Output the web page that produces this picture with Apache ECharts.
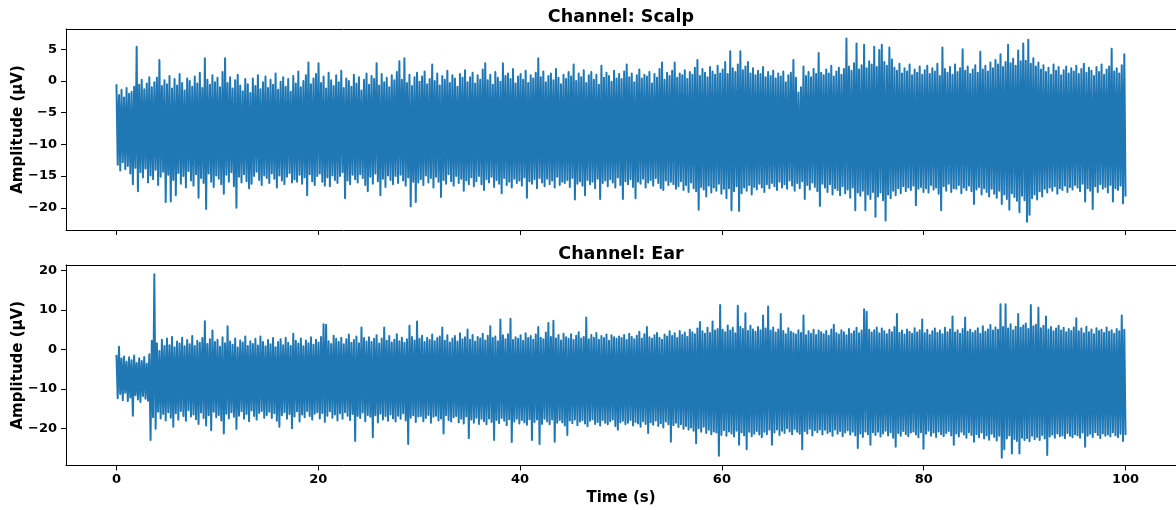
<!DOCTYPE html>
<html>
<head>
<meta charset="utf-8">
<script src="https://cdn.jsdelivr.net/npm/echarts@6/dist/echarts.min.js"></script>
<style>
  html, body { margin: 0; padding: 0; background: #fff; }
  #chart { width: 1176px; height: 510px; }
</style>
</head>
<body>
<div id="chart"></div>
<script>
  // peaks, one per 0.25 s (hi at t, lo half a step later), 20 per row = 5 s
  const scalpHi = [
    -0.5, -2.2, -1.4, -2.6, -1.1, -2.0, -1.7, -0.9, 5.4, -0.6, 0.2, -1.3, -0.4, 0.6, -1.0, -0.2, 0.5, 3.3, -0.8, 0.1,
    -0.5, 0.8, -1.2, 0.3, -0.7, 1.1, -0.3, -1.5, 0.4, 0.0, -0.9, 0.7, -0.4, 1.3, -1.1, 3.6, 0.2, -0.6, 0.9, -0.2,
    0.5, -1.0, 1.4, 3.6, -0.3, 0.6, -1.2, 0.1, 1.0, -0.7, -1.6, 0.3, -0.5, -1.9, 0.4, -0.8, 0.9, -1.3, -0.2, 0.7,
    -1.1, 0.2, -0.6, 1.2, -1.4, -0.1, 0.6, -0.9, 0.3, -1.7, 0.8, -0.4, 1.5, -1.0, 0.0, 0.9, 2.9, -0.5, 0.4, 1.1,
    2.8, -0.3, 0.7, -1.2, 1.3, 0.1, -0.8, 0.9, -0.2, 1.6, -1.1, 0.4, 0.0, -0.9, 1.0, -0.4, 0.6, -1.5, 0.2, 1.2,
    -0.6, 0.8, 0.3, 2.8, -0.7, 1.1, -0.2, 0.5, -1.0, 0.9, 0.1, 1.4, 3.1, 0.2, 3.6, -0.3, 1.0, -0.8, 0.6, 1.3,
    -0.1, 0.7, 1.5, -0.5, 0.3, 2.6, 0.0, 1.2, -0.7, 0.8, 0.2, 1.6, -0.3, 0.9, 0.4, -0.9, 1.1, 0.5, 1.7, -0.2,
    0.6, 1.3, -0.4, 0.9, 0.2, 1.8, 2.8, 0.1, 1.0, -0.6, 1.4, 0.5, -0.1, 2.8, 0.8, 1.2, 0.3, 1.9, -0.4, 0.7,
    1.1, 0.2, 1.6, -0.3, 0.9, 0.4, 1.3, 3.6, 0.6, 1.5, -0.2, 0.8, 1.2, 0.1, 1.9, 0.5, -0.5, 1.0, 0.3, 1.4,
    0.7, 2.6, 0.0, 1.2, 0.6, 1.7, -0.3, 0.9, 1.4, 0.2, 1.0, -0.6, 2.4, 0.5, 1.3, 0.8, -0.1, 1.6, 0.4, 1.1,
    0.3, 1.5, 2.6, 0.6, 1.2, -0.2, 0.9, 1.8, 0.4, 1.0, 0.7, 1.4, -0.4, 1.1, 0.5, 1.9, 2.9, 0.2, 1.3, 0.8,
    1.6, 2.9, 0.5, 1.2, 0.9, 1.7, 0.3, 1.4, 1.0, 2.1, 3.3, 0.8, 1.9, 1.3, 0.6, 2.2, 1.5, 1.0, 2.4, 1.2,
    1.8, 3.0, 1.1, 4.7, 2.0, 1.4, 2.6, 4.7, 1.7, 2.3, 3.0, 1.2, 2.0, 0.9, 1.6, 1.1, 2.2, 0.6, 1.4, 0.8,
    1.6, 0.4, 1.2, 0.7, 1.5, -0.2, 0.9, 1.3, 3.3, 0.5, -1.8, -1.0, 2.3, 0.8, 1.4, 0.6, 1.9, 1.1, 4.4, 1.3,
    0.9, 1.8, 1.2, 2.4, 0.7, 1.5, 2.1, 1.0, 1.9, 6.7, 2.3, 1.6, 2.8, 5.9, 1.8, 2.5, 5.7, 2.0, 3.1, 2.6,
    5.4, 2.2, 4.9, 5.7, 3.0, 2.4, 5.3, 3.4, 2.1, 1.6, 2.7, 1.2, 2.0, 1.5, 2.6, 0.9, 1.8, 1.3, 2.3, 1.0,
    1.7, 2.4, 1.1, 2.0, 1.5, 2.7, 0.8, 5.3, 1.9, 1.3, 2.2, 1.0, 2.6, 1.4, 2.0, 5.0, 1.6, 2.3, 1.1, 1.8,
    2.5, 1.3, 4.6, 1.8, 2.4, 1.5, 2.9, 2.0, 3.3, 2.6, 4.2, 2.2, 3.0, 5.7, 2.8, 3.5, 2.4, 4.8, 3.1, 5.9,
    3.2, 6.5, 2.7, 3.6, 2.3, 2.9, 1.8, 2.5, 1.4, 2.1, 1.0, 2.6, 1.6, 2.2, 0.9, 1.7, 2.3, 1.2, 2.0, 1.5,
    2.4, 1.1, 1.9, 2.7, 1.3, 2.1, 1.6, 0.8, 2.2, 1.4, 2.6, 1.0, 1.8, 2.3, 5.1, 1.5, 2.0, 1.2, 2.5, 4.2
  ];
  const scalpLo = [
    -13.2, -14.1, -12.8, -13.9, -13.4, -14.6, -16.3, -13.7, -17.4, -14.4, -15.2, -13.8, -16.0, -14.9, -15.5, -14.0, -16.4, -15.1, -14.3, -19.1,
    -14.8, -19.0, -15.6, -18.0, -14.5, -16.2, -15.0, -16.8, -14.2, -15.7, -16.5, -14.7, -18.4, -15.3, -16.1, -20.2, -14.6, -15.9, -16.7, -14.9,
    -15.4, -16.3, -17.8, -14.8, -15.9, -14.4, -16.6, -20.0, -15.1, -16.0, -14.7, -15.8, -16.9, -16.2, -15.0, -14.3, -15.6, -16.4, -14.9, -15.3,
    -16.1, -14.6, -15.4, -16.8, -14.9, -15.7, -16.3, -15.1, -14.5, -16.0, -15.5, -15.9, -14.8, -16.2, -15.2, -18.0, -14.7, -15.8, -16.4, -15.0,
    -14.6, -15.9, -16.5, -15.2, -16.6, -14.9, -15.6, -16.1, -15.0, -14.4, -18.5, -15.7, -16.3, -14.8, -15.5, -16.0, -14.7, -15.3, -16.4, -17.4,
    -15.1, -16.2, -14.6, -15.8, -18.0, -15.4, -16.7, -14.9, -15.6, -16.3, -15.0, -16.1, -14.8, -15.7, -16.5, -15.2, -19.8, -15.9, -19.1, -16.0,
    -15.5, -16.4, -14.9, -16.0, -15.3, -16.8, -15.1, -15.9, -18.3, -15.6, -16.2, -14.7, -15.8, -16.5, -15.0, -16.1, -15.4, -17.3, -15.7, -16.3,
    -15.2, -16.6, -15.8, -15.0, -16.3, -17.2, -15.5, -16.0, -15.1, -16.7, -15.6, -16.2, -17.7, -15.3, -16.4, -15.9, -16.8, -15.4, -16.1, -15.7,
    -16.5, -15.2, -18.4, -15.8, -16.2, -15.5, -16.9, -15.3, -16.0, -16.6, -15.4, -16.3, -15.7, -16.8, -15.1, -16.4, -15.9, -16.1, -15.6, -16.7,
    -15.3, -18.7, -16.2, -15.8, -16.5, -18.0, -15.6, -16.3, -15.9, -16.9, -15.4, -18.6, -16.1, -15.7, -16.6, -15.5, -16.0, -16.8, -15.2, -16.4,
    -18.6, -15.8, -16.3, -15.5, -16.7, -18.5, -15.9, -16.2, -15.4, -16.8, -16.0, -15.6, -16.5, -15.3, -16.1, -16.9, -17.2, -15.7, -16.4, -15.9,
    -16.3, -17.0, -16.6, -15.8, -17.2, -16.4, -17.5, -16.0, -16.9, -17.4, -20.3, -16.7, -17.1, -18.2, -16.5, -17.6, -16.8, -17.3, -16.2, -17.8,
    -17.0, -18.5, -16.9, -20.4, -17.4, -16.6, -20.5, -17.7, -16.8, -17.3, -16.4, -17.9, -16.7, -17.1, -16.2, -16.8, -17.5, -16.3, -16.9, -16.1,
    -16.6, -17.2, -15.9, -16.8, -16.3, -17.0, -15.7, -16.5, -17.3, -16.1, -16.9, -15.8, -18.6, -16.4, -17.1, -16.0, -16.7, -17.4, -19.7, -16.2,
    -16.8, -17.5, -16.3, -17.9, -16.9, -17.2, -18.0, -16.6, -17.7, -17.1, -18.4, -16.8, -20.4, -17.6, -18.1, -17.3, -20.4, -17.9, -18.6, -17.5,
    -21.4, -18.2, -17.6, -18.8, -22.0, -17.9, -18.5, -17.3, -18.0, -16.9, -17.7, -16.6, -17.4, -16.8, -17.2, -16.5, -19.6, -17.0, -16.7, -17.5,
    -16.9, -17.6, -16.4, -17.1, -16.8, -17.8, -20.4, -16.6, -17.3, -16.2, -17.5, -16.9, -17.0, -16.4, -17.7, -16.8, -17.2, -16.5, -17.4, -19.4,
    -17.1, -16.7, -17.9, -16.9, -17.5, -18.2, -17.0, -17.8, -18.4, -17.3, -19.4, -17.9, -18.6, -20.3, -17.7, -18.3, -18.9, -20.7, -18.1, -18.8,
    -22.2, -21.1, -18.5, -17.9, -18.7, -17.4, -18.2, -17.0, -17.6, -16.8, -17.3, -16.6, -17.8, -16.9, -17.2, -16.5, -17.5, -16.7, -17.1, -16.4,
    -16.8, -17.4, -16.2, -19.0, -16.9, -17.3, -20.2, -16.6, -17.5, -16.3, -17.0, -16.7, -17.6, -16.4, -19.0, -16.9, -17.2, -16.5, -19.3, -18.2
  ];
  const earHi = [
    -1.4, 0.7, -2.3, -1.8, -3.1, -2.0, -2.7, -1.5, -3.4, -2.2, -2.9, -1.9, -3.6, -1.2, 2.2, 19.1, 1.6, -0.4, 2.5, 0.9,
    2.8, 1.1, 3.2, 0.6, 2.0, 1.5, 3.0, 0.8, 2.4, 1.3, 3.4, 0.9, 2.2, 1.7, 2.9, 7.2, 1.4, 2.6, 4.8, 1.9,
    2.5, 0.7, 3.1, 1.6, 5.9, 2.0, 1.2, 2.8, 0.5, 2.3, 1.8, 3.3, 0.9, 2.1, 1.4, 2.7, 1.0, 3.3, 1.9, 0.8,
    2.4, 1.3, 2.9, 0.6, 1.9, 2.6, 1.1, 3.0, 1.7, 0.9, 4.0, 2.2, 1.5, 2.8, 0.8, 2.3, 1.6, 3.1, 1.2, 2.5,
    1.8, 3.2, 6.4, 6.3, 2.1, 1.4, 3.5, 2.7, 1.9, 3.0, 1.3, 2.6, 3.8, 1.7, 2.4, 3.3, 1.6, 5.6, 2.9, 2.0,
    3.1, 1.9, 2.7, 3.6, 1.5, 2.8, 5.6, 2.2, 3.4, 1.8, 2.5, 3.9, 2.1, 3.0, 1.7, 2.6, 6.0, 3.2, 2.3, 7.1,
    2.7, 3.5, 1.9, 3.0, 2.4, 3.8, 2.1, 2.9, 3.3, 5.6, 2.2, 3.6, 1.8, 2.8, 3.4, 2.0, 4.1, 2.6, 3.1, 5.1,
    2.5, 3.7, 2.0, 3.2, 2.8, 4.0, 2.3, 3.5, 5.9, 2.9, 3.3, 2.1, 7.6, 3.6, 2.6, 3.9, 7.8, 2.4, 3.1, 2.7,
    3.6, 2.2, 4.1, 2.9, 3.4, 2.5, 3.8, 5.7, 3.0, 2.6, 4.3, 6.7, 3.2, 7.3, 2.8, 3.7, 2.3, 4.0, 3.1, 2.7,
    3.9, 2.4, 3.5, 4.4, 2.8, 3.2, 8.1, 2.6, 3.7, 3.0, 4.2, 2.5, 3.4, 2.9, 3.8, 2.2, 3.6, 3.1, 2.7, 3.3,
    2.9, 3.7, 2.4, 4.0, 3.2, 2.6, 3.5, 4.5, 2.8, 3.9, 5.7, 3.1, 2.7, 3.6, 4.2, 3.0, 2.5, 3.8, 3.3, 4.6,
    3.4, 4.1, 2.9, 4.7, 3.7, 4.3, 3.2, 5.0, 4.4, 3.9, 5.3, 7.0, 4.6, 4.0, 5.5, 4.2, 7.1, 4.8, 5.2, 11.3,
    5.0, 4.4, 6.1, 4.8, 5.5, 4.1, 11.1, 5.8, 5.2, 9.2, 4.7, 6.0, 5.1, 4.5, 5.7, 4.9, 8.6, 5.3, 10.9, 4.8,
    5.6, 4.3, 5.1, 9.0, 4.7, 3.9, 5.4, 4.5, 4.1, 3.8, 4.9, 4.2, 8.6, 3.6, 4.6, 4.0, 5.0, 3.7, 4.8, 4.4,
    3.9, 4.7, 3.5, 5.1, 6.3, 4.2, 3.8, 4.9, 4.4, 3.6, 5.2, 4.0, 4.6, 5.5, 4.1, 4.8, 10.2, 9.6, 5.0, 4.3,
    4.9, 5.6, 4.1, 5.3, 4.6, 3.9, 5.0, 4.4, 5.7, 9.0, 4.2, 4.8, 3.8, 5.1, 4.5, 4.0, 5.4, 4.3, 4.9, 7.6,
    4.1, 5.0, 3.7, 4.6, 5.3, 4.2, 4.8, 3.9, 5.5, 4.4, 5.1, 8.4, 4.3, 4.9, 4.0, 5.2, 8.1, 4.5, 5.0, 4.2,
    4.7, 5.4, 4.0, 5.9, 4.5, 5.1, 6.2, 4.8, 5.6, 5.0, 11.5, 5.7, 11.5, 5.3, 6.4, 4.9, 5.8, 9.0, 5.5, 6.1,
    6.6, 5.2, 11.3, 5.9, 6.3, 10.6, 5.4, 6.0, 8.4, 5.1, 5.7, 4.6, 5.3, 6.0, 4.8, 5.5, 4.4, 5.2, 4.7, 5.6,
    7.9, 4.6, 5.3, 4.1, 5.8, 4.4, 5.1, 3.9, 5.4, 4.7, 5.0, 4.2, 5.6, 4.5, 4.9, 4.0, 5.2, 4.6, 8.6, 5.0
  ];
  const earLo = [
    -12.4, -11.3, -12.9, -11.0, -13.1, -12.2, -16.8, -11.6, -12.7, -13.3, -11.8, -12.5, -13.0, -23.0, -17.2, -20.1, -15.8, -17.5, -16.4, -18.0,
    -15.9, -17.3, -19.6, -16.2, -17.8, -15.6, -16.9, -18.1, -15.4, -17.0, -16.5, -17.7, -18.9, -16.0, -17.4, -19.3, -16.7, -20.5, -15.8, -17.2,
    -16.6, -18.0, -21.3, -16.3, -17.5, -15.9, -17.1, -20.2, -16.8, -15.7, -17.6, -16.4, -18.2, -15.5, -16.9, -17.8, -16.1, -15.6, -17.3, -16.6,
    -15.8, -17.4, -16.2, -18.1, -19.6, -16.7, -15.9, -17.6, -16.4, -20.0, -17.0, -15.7, -18.3, -16.5, -17.2, -15.6, -16.9, -17.8, -16.3, -15.9,
    -17.5, -16.1, -18.4, -16.8, -15.7, -17.3, -16.5, -18.0, -16.2, -17.6, -15.9, -16.8, -17.9, -16.4, -23.2, -16.9, -17.4, -16.0, -18.2, -16.6,
    -17.1, -22.3, -16.7, -18.5, -16.3, -17.8, -16.9, -18.1, -16.5, -17.5, -18.3, -16.8, -17.6, -16.2, -18.0, -24.0, -17.3, -16.7, -18.4, -17.0,
    -16.9, -18.2, -17.4, -16.6, -18.6, -17.1, -16.8, -18.0, -17.5, -21.3, -16.7, -17.9, -18.3, -17.2, -16.9, -18.5, -17.6, -18.8, -17.0, -22.5,
    -17.8, -18.6, -17.3, -18.9, -17.6, -18.2, -19.0, -17.5, -18.4, -23.0, -17.9, -18.7, -17.4, -18.1, -19.2, -17.7, -23.5, -18.3, -17.6, -18.8,
    -17.9, -18.5, -19.1, -17.7, -23.0, -18.4, -17.8, -24.0, -18.9, -17.6, -18.3, -19.0, -17.8, -23.4, -18.6, -17.9, -18.5, -19.3, -21.7, -18.0,
    -18.7, -17.8, -19.2, -18.3, -17.9, -18.8, -19.5, -18.1, -17.7, -18.9, -18.4, -19.3, -17.9, -18.6, -19.0, -18.2, -17.8, -19.4, -20.4, -18.5,
    -18.1, -19.0, -18.6, -17.9, -19.3, -18.4, -18.8, -19.6, -18.2, -18.9, -21.2, -18.5, -19.1, -18.0, -19.4, -18.7, -19.8, -18.3, -19.0, -23.4,
    -19.2, -18.6, -19.7, -19.0, -20.1, -19.4, -20.3, -19.8, -20.6, -23.8, -20.0, -20.9, -19.6, -21.2, -20.4, -21.5, -20.8, -21.1, -27.0, -21.7,
    -20.5, -21.9, -20.8, -21.3, -22.1, -20.6, -24.2, -21.0, -21.8, -25.3, -20.9, -22.0, -21.4, -20.7, -21.6, -22.3, -20.9, -21.5, -20.4, -24.2,
    -21.1, -20.3, -21.7, -20.6, -21.2, -20.0, -20.8, -21.5, -20.2, -20.9, -21.4, -25.3, -20.7, -21.3, -20.1, -21.8, -20.5, -21.0, -20.3, -21.6,
    -20.4, -21.2, -20.8, -21.9, -20.3, -21.4, -20.7, -22.0, -21.1, -20.5, -21.6, -20.9, -21.8, -25.0, -21.3, -22.2, -20.8, -21.5, -24.2, -21.0,
    -21.7, -20.9, -22.1, -21.3, -20.6, -21.8, -21.0, -22.4, -24.7, -21.2, -21.9, -20.7, -21.5, -22.0, -21.1, -20.8, -21.6, -22.3, -21.0, -25.2,
    -21.4, -20.6, -21.9, -21.1, -22.2, -20.8, -21.5, -22.0, -21.2, -20.7, -21.8, -24.2, -21.3, -22.1, -20.9, -21.6, -22.4, -21.0, -21.7, -23.4,
    -21.5, -22.3, -21.1, -22.6, -21.8, -22.9, -21.4, -22.2, -23.1, -21.9, -27.5, -25.3, -22.6, -21.8, -26.4, -22.7, -23.2, -26.4, -22.4, -23.0,
    -22.5, -23.3, -21.9, -22.8, -22.2, -23.0, -21.7, -22.6, -26.8, -22.1, -21.6, -22.4, -21.3, -22.0, -21.8, -22.5, -21.2, -21.9, -22.3, -21.5,
    -21.8, -22.4, -21.1, -24.7, -21.9, -21.4, -22.2, -21.0, -21.7, -22.5, -21.3, -21.9, -21.6, -22.1, -21.0, -21.8, -22.3, -21.4, -23.2, -21.7
  ];

  const xTicks = [0, 20, 40, 60, 80, 100];
  const scalpTicks = [-20, -15, -10, -5, 0, 5];
  const earTicks = [-20, -10, 0, 10, 20];

  const blue = '#1f77b4';
  const font = 'DejaVu Sans';

  // hi/lo alternate along 0..100 s
  function trace(hi, lo) {
    const n = hi.length * 2 - 1;
    const out = [];
    hi.forEach((h, i) => {
      out.push([(2 * i) * 100 / n, h]);
      out.push([(2 * i + 1) * 100 / n, lo[i]]);
    });
    return out;
  }

  function lineSeries(hi, lo, xi, yi) {
    return {
      type: 'line',
      xAxisIndex: xi,
      yAxisIndex: yi,
      data: trace(hi, lo),
      showSymbol: false,
      symbol: 'none',
      silent: true,
      lineStyle: { color: blue, width: 2, join: 'round' }
    };
  }

  const minus = v => String(v).replace('-', '\u2212');
  const tickLabel = { fontFamily: font, fontWeight: 'bold', fontSize: 13, color: '#000' };
  const spine = { show: true, onZero: false, lineStyle: { color: '#000', width: 1 } };
  const nameStyle = { fontFamily: font, fontWeight: 'bold', fontSize: 15, color: '#000' };

  function xAxisFor(grid, withLabels) {
    return {
      type: 'value', gridIndex: grid, min: -5, max: 105, position: 'bottom',
      axisLine: spine,
      axisTick: { show: true, length: 5, customValues: xTicks, lineStyle: { color: '#000' } },
      axisLabel: Object.assign({ show: withLabels, margin: 8, customValues: xTicks }, tickLabel),
      splitLine: { show: false },
      name: withLabels ? 'Time (s)' : '',
      nameLocation: 'middle',
      nameGap: 25,
      nameMoveOverlap: false,
      nameTextStyle: nameStyle
    };
  }

  function topSpine(grid) {
    return {
      type: 'value', gridIndex: grid, min: -5, max: 105, position: 'top',
      axisLine: spine, axisTick: { show: false }, axisLabel: { show: false }, splitLine: { show: false }
    };
  }

  function yAxisFor(grid, min, max, ticks) {
    return {
      type: 'value', gridIndex: grid, min: min, max: max,
      axisLine: spine,
      axisTick: { show: true, length: 5, customValues: ticks, lineStyle: { color: '#000' } },
      axisLabel: Object.assign({ margin: 9, customValues: ticks, formatter: minus }, tickLabel),
      splitLine: { show: false },
      name: 'Amplitude (\u00b5V)',
      nameLocation: 'middle',
      nameRotate: 90,
      nameGap: 40,
      nameMoveOverlap: false,
      nameTextStyle: nameStyle
    };
  }

  const titleStyle = { fontFamily: font, fontWeight: 'bold', fontSize: 17.5, color: '#000' };

  const chart = echarts.init(document.getElementById('chart'), null, { renderer: 'canvas' });
  chart.setOption({
    animation: false,
    backgroundColor: '#fff',
    title: [
      { text: 'Channel: Scalp', left: 621, top: 8, textAlign: 'center', padding: 0, textStyle: titleStyle },
      { text: 'Channel: Ear', left: 621, top: 245, textAlign: 'center', padding: 0, textStyle: titleStyle }
    ],
    grid: [
      { left: 66, top: 29, width: 1110, height: 201, containLabel: false, outerBoundsMode: 'none' },
      { left: 66, top: 265, width: 1110, height: 200.5, containLabel: false, outerBoundsMode: 'none' }
    ],
    xAxis: [xAxisFor(0, false), xAxisFor(1, true), topSpine(0), topSpine(1)],
    yAxis: [yAxisFor(0, -23.5, 8.2, scalpTicks), yAxisFor(1, -29.45, 21.45, earTicks)],
    series: [
      lineSeries(scalpHi, scalpLo, 0, 0),
      lineSeries(earHi, earLo, 1, 1)
    ]
  });
</script>
</body>
</html>
